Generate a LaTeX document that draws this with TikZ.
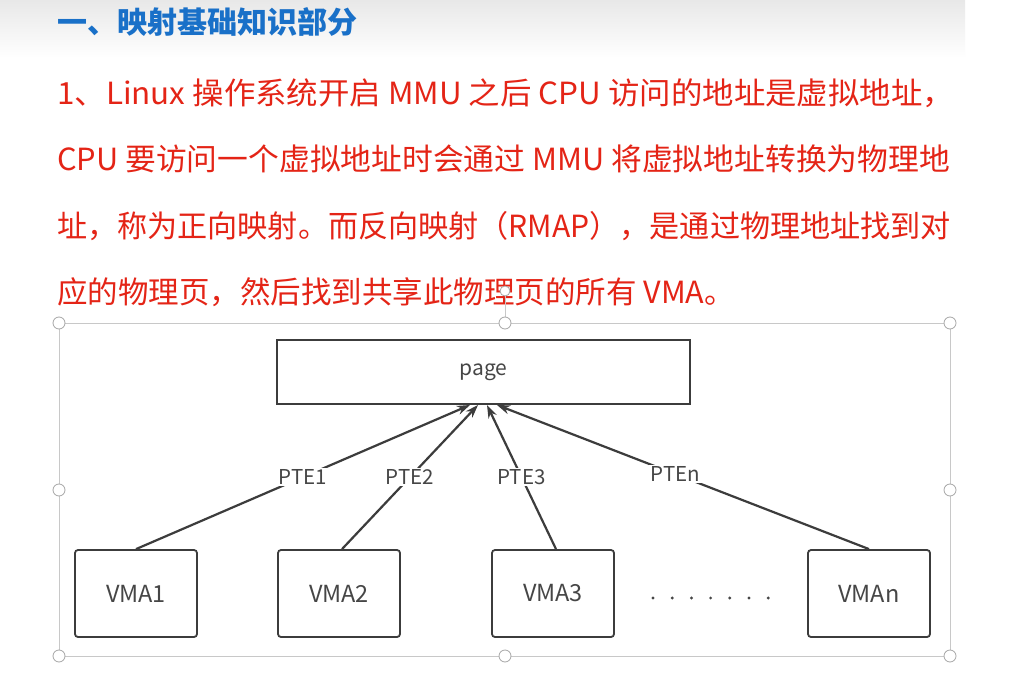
\documentclass[tikz,border=0pt]{standalone}
\usepackage{fontspec}
\setmainfont{Noto Sans CJK SC}
\newfontfamily\cjk{Noto Sans CJK SC}
\usetikzlibrary{arrows.meta}
\definecolor{titleblue}{RGB}{25,112,200}
\definecolor{txtred}{RGB}{228,36,22}
\definecolor{boxgray}{RGB}{60,60,60}
\definecolor{lblgray}{RGB}{70,70,70}
\definecolor{framegray}{RGB}{200,200,200}
\tikzset{
  para/.style={anchor=west, inner sep=0pt, text=txtred, font=\cjk\fontsize{30.5}{36}\selectfont},
  vmabox/.style={draw=boxgray, line width=1.8pt, rounded corners=3pt, minimum width=122pt, minimum height=87pt, inner sep=0pt, text=lblgray, font=\cjk\fontsize{23.5}{28}\selectfont},
  pagebox/.style={draw=boxgray, line width=2pt, minimum width=413pt, minimum height=64pt, inner sep=0pt, text=lblgray, font=\cjk\fontsize{21}{25}\selectfont},
  conn/.style={draw=boxgray, line width=2.2pt, -{Stealth[length=13pt,width=9pt]}},
  ptelbl/.style={fill=white, inner sep=1.5pt, text=lblgray, font=\cjk\fontsize{20.5}{24}\selectfont},
  handle/.style={circle, draw=gray!70, fill=white, line width=0.8pt, minimum size=12pt, inner sep=0pt},
  dot/.style={circle, fill=lblgray, minimum size=3.2pt, inner sep=0pt},
}
\begin{document}
\begin{tikzpicture}[x=1pt,y=-1pt]
\useasboundingbox (0,0) rectangle (1028,682);
\fill[white] (0,0) rectangle (1028,682);
\shade[top color=gray!18, bottom color=white] (0,0) rectangle (965,58);
% title
\node[anchor=west, inner sep=0pt, text=titleblue, font=\cjk\bfseries\fontsize{30}{36}\selectfont] (title) at (57,22) {一、映射基础知识部分};
% paragraph
\node[para] (l1) at (57,93) {\scalebox{1.03}[1]{1、Linux 操作系统开启 MMU 之后 CPU 访问的地址是虚拟地址，}};
\node[para] (l2) at (57,159) {\scalebox{1.009}[1]{CPU 要访问一个虚拟地址时会通过 MMU 将虚拟地址转换为物理地}};
\node[para] (l3) at (57,226) {\scalebox{0.987}[1]{址，称为正向映射。而反向映射（RMAP），是通过物理地址找到对}};
\node[para] (l4) at (57,292) {应的物理页，然后找到共享此物理页的所有 VMA。};
% selection frame
\draw[framegray, line width=0.8pt] (59,323) rectangle (950,656);
\node[handle, minimum size=10pt] (rot) at (505,291) {};
\draw[framegray, line width=0.8pt] (rot) -- (505,323);
\node[handle] (h1) at (59,323) {};
\node[handle] (h2) at (505,323) {};
\node[handle] (h3) at (950,323) {};
\node[handle] (h4) at (59,490) {};
\node[handle] (h5) at (950,490) {};
\node[handle] (h6) at (59,656) {};
\node[handle] (h7) at (505,656) {};
\node[handle] (h8) at (950,656) {};
% boxes
\node[pagebox] (page) at (483.5,372) {page};
\node[vmabox] (v1) at (136,593.5) {VMA1};
\node[vmabox] (v2) at (339,593.5) {VMA2};
\node[vmabox] (v3) at (553,593.5) {VMA3};
\node[vmabox] (vn) at (869,593.5) {VMAn};
\foreach \i in {0,...,6} {
  \node[dot] (d\i) at (653+\i*19.2,598) {};
}
% arrow targets
\coordinate (t1) at ([xshift=-13.5pt]page.south);
\coordinate (t2) at ([xshift=-5.5pt]page.south);
\coordinate (t3) at ([xshift=3.5pt]page.south);
\coordinate (tn) at ([xshift=13.5pt]page.south);
\draw[conn] (v1.north) -- node[ptelbl, pos=0.5] {PTE1} (t1);
\draw[conn] ([xshift=3pt]v2.north) -- node[ptelbl, pos=0.5] {PTE2} (t2);
\draw[conn] ([xshift=3pt]v3.north) -- node[ptelbl, pos=0.5] {PTE3} (t3);
\draw[conn] (vn.north) -- node[ptelbl, pos=0.52] {PTEn} (tn);
\end{tikzpicture}
\end{document}
